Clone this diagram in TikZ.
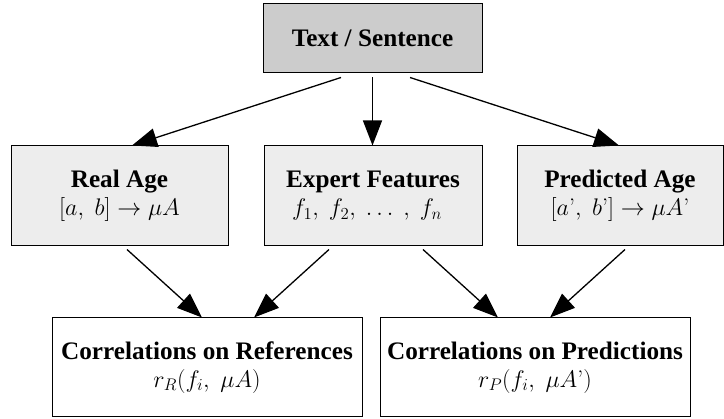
\documentclass[tikz,border=0pt]{standalone}
\usepackage{fix-cm}
\usepackage{fontspec}
\setmainfont{Liberation Serif}[BoldFont={Liberation Serif Bold}]
\newfontfamily\lmr{Latin Modern Roman}
\usetikzlibrary{arrows.meta}
\newcommand{\ttl}{\rmfamily\bfseries\fontsize{25.2}{28}\selectfont}
\newcommand{\mth}{\fontsize{24}{28}\selectfont}
\newcommand{\apo}{\mbox{\lmr ’}}
\begin{document}
\begin{tikzpicture}[x=1pt,y=1pt,
  box/.style={draw=black,line width=1pt,rectangle,inner sep=0pt,align=center,
    font=\mth},
  topbox/.style={box,fill=black!20},
  midbox/.style={box,fill=black!7},
  botbox/.style={box,fill=white},
  arr/.style={-{Triangle[length=25pt,width=19pt]},line width=1.3pt}]
\useasboundingbox (0,0) rectangle (724,-419);
\node[topbox,minimum width=219pt,minimum height=69pt] (top) at (372.5,-38.5)
  {{\ttl Text / Sentence}};
\node[midbox,minimum width=217pt,minimum height=100pt] (real) at (119.5,-196)
  {{\ttl Real Age}\\ $[a,\; b] \to \mu A$};
\node[midbox,minimum width=218pt,minimum height=100pt] (expert) at (373,-196)
  {{\ttl Expert Features}\\ $f_1,\ f_2,\ \ldots\ ,\ f_n$\hspace*{12pt}};
\node[midbox,minimum width=206pt,minimum height=100pt] (pred) at (620,-196)
  {{\ttl Predicted Age}\\ $[a\apo,\; b\apo] \to \mu A\apo$};
\node[botbox,minimum width=310pt,minimum height=99pt] (refs) at (207,-367.5)
  {{\ttl Correlations on References}\\ $r_R(f_i,\; \mu A)$};
\node[botbox,minimum width=310pt,minimum height=99pt] (preds) at (535,-367.5)
  {{\ttl Correlations on Predictions}\\ $r_P(f_i,\; \mu A\apo)$};
\draw[arr] ([xshift=-31.5pt,yshift=-4pt]top.south) -- ([xshift=12.5pt]real.north);
\draw[arr] ([yshift=-4pt]top.south) -- (top.south |- expert.north);
\draw[arr] ([xshift=37.5pt,yshift=-4pt]top.south) -- ([xshift=-1pt]pred.north);
\draw[arr] ([xshift=7.5pt,yshift=-3pt]real.south) -- ([xshift=-5pt]refs.north);
\draw[arr] ([xshift=-44pt,yshift=-3pt]expert.south) -- ([xshift=47pt]refs.north);
\draw[arr] ([xshift=50pt,yshift=-3pt]expert.south) -- ([xshift=-37pt]preds.north);
\draw[arr] ([xshift=5pt,yshift=-3pt]pred.south) -- ([xshift=15pt]preds.north);
\end{tikzpicture}
\end{document}
